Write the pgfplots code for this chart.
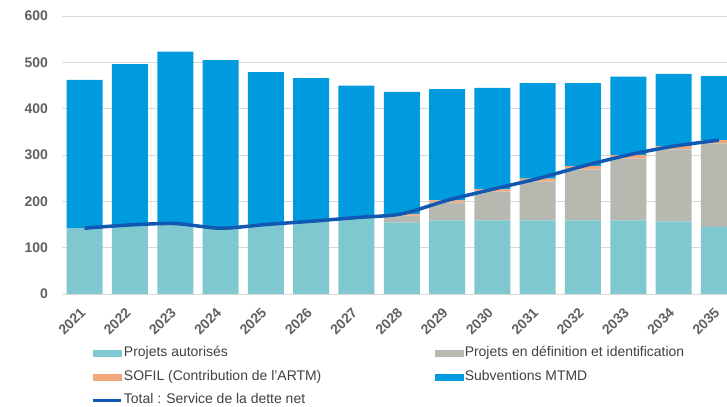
\documentclass[border=0pt]{standalone}
\usepackage{fontspec}
\setmainfont{Liberation Sans}
\usepackage{pgfplots}
\pgfplotsset{compat=1.18}
\definecolor{cteal}{RGB}{128,200,208}
\definecolor{cgrey}{RGB}{183,185,177}
\definecolor{corange}{RGB}{242,167,122}
\definecolor{cblue}{RGB}{0,155,222}
\definecolor{cline}{RGB}{16,88,178}
\definecolor{cgrid}{RGB}{217,217,217}
\definecolor{ctext}{RGB}{96,96,96}
\definecolor{clegend}{RGB}{64,64,64}
\begin{document}
\begin{tikzpicture}
\path[use as bounding box] (0,0) rectangle (727bp,407bp);
\begin{axis}[
  at={(62bp,113bp)}, anchor=south west,
  scale only axis, width=665bp, height=278bp,
  xmin=2020.5, xmax=2035.18, ymin=0, ymax=600,
  ybar stacked, bar width=36bp,
  ytick={0,100,...,600}, xtick={2021,...,2035},
  ymajorgrids, grid style={draw=cgrid, line width=0.8bp},
  axis line style={draw=none}, major tick length=0,
  tick label style={font=\fontsize{14}{16}\selectfont\bfseries, text=ctext},
  /pgf/number format/assume math mode=true,
  /pgf/number format/1000 sep={},
  yticklabel style={anchor=east, inner sep=0pt, xshift=-14bp},
  xticklabel style={xshift=-8bp, yshift=3bp, rotate=45, anchor=east, inner sep=0pt, xshift=-9bp, yshift=-18bp},
]
\addplot[fill=cteal, draw=none] coordinates {(2021,142) (2022,149) (2023,152) (2024,142) (2025,150) (2026,157) (2027,165) (2028,154) (2029,159) (2030,159) (2031,159) (2032,159) (2033,159) (2034,157) (2035,145)};
\addplot[fill=cgrey, draw=none] coordinates {(2021,0) (2022,0) (2023,0) (2024,0) (2025,0) (2026,0) (2027,0) (2028,15) (2029,38) (2030,62) (2031,84) (2032,110) (2033,133) (2034,155) (2035,180)};
\addplot[fill=corange, draw=none] coordinates {(2021,0) (2022,0) (2023,0) (2024,0) (2025,0) (2026,0) (2027,0) (2028,4) (2029,5) (2030,5) (2031,6) (2032,7) (2033,8) (2034,7) (2035,7)};
\addplot[fill=cblue, draw=none] coordinates {(2021,320) (2022,347) (2023,371) (2024,363) (2025,329) (2026,309) (2027,285) (2028,263) (2029,240) (2030,219) (2031,206) (2032,179) (2033,169) (2034,156) (2035,138)};
\end{axis}
\begin{axis}[
  at={(62bp,113bp)}, anchor=south west,
  scale only axis, width=665bp, height=278bp,
  xmin=2020.5, xmax=2035.18, ymin=0, ymax=600,
  hide axis,
  legend columns=2, legend cell align=left,
  legend style={at={(0.0451,-0.187)}, anchor=north west, draw=none, fill=none,
    inner sep=0pt, outer sep=0pt, font=\fontsize{14}{16}\selectfont, text=clegend,
    row sep=8.5bp, /tikz/column 2/.style={column sep=113bp},
    nodes={inner sep=1bp, text height=10bp, text depth=3bp}},
]
\addlegendimage{legend image code/.code={\fill[cteal] (0bp,-3bp) rectangle (28bp,3bp);}}
\addlegendentry{Projets autorisés}
\addlegendimage{legend image code/.code={\fill[cgrey] (0bp,-3bp) rectangle (28bp,3bp);}}
\addlegendentry{Projets en définition et identification}
\addlegendimage{legend image code/.code={\fill[corange] (0bp,-3bp) rectangle (28bp,3bp);}}
\addlegendentry{SOFIL (Contribution de l'ARTM)}
\addlegendimage{legend image code/.code={\fill[cblue] (0bp,-3bp) rectangle (28bp,3bp);}}
\addlegendentry{Subventions MTMD}
\addplot[cline, line width=3.5bp, smooth, legend image code/.code={\draw[cline, line width=3bp] (0bp,0bp) -- (28bp,0bp);}] coordinates {(2021,142) (2022,149) (2023,152) (2024,142) (2025,150) (2026,157) (2027,165) (2028,173) (2029,202) (2030,226) (2031,249) (2032,276) (2033,300) (2034,319) (2035,332)};
\addlegendentry{Total : Service de la dette net}
\end{axis}
\end{tikzpicture}
\end{document}
